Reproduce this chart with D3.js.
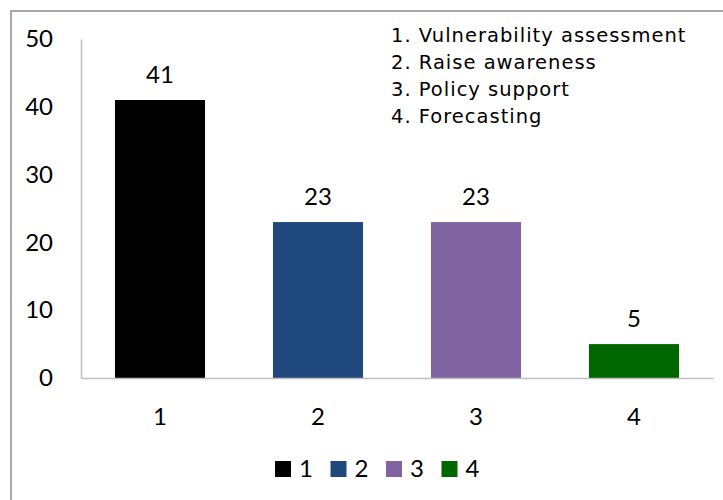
<!DOCTYPE html>
<html><head><meta charset="utf-8">
<script src="https://cdn.jsdelivr.net/npm/d3@7"></script>
<style>body{margin:0;background:#fff;}svg{display:block;}</style>
</head><body>
<svg id="chart" width="723" height="500"></svg>
<script>
const categories = ["1", "2", "3", "4"];
const values = [41, 23, 23, 5];
const colors = ["#000000", "#1F497D", "#8064A2", "#006600"];
const yTicks = [0, 10, 20, 30, 40, 50];
const notes = ["1. Vulnerability assessment", "2. Raise awareness", "3. Policy support", "4. Forecasting"];

const svg = d3.select("#chart");
const numFont = "Lato, 'Open Sans', sans-serif";
const txtFont = "'DejaVu Sans', Verdana, sans-serif";

// outer frame
svg.append("rect").attr("x", 11).attr("y", 11).attr("width", 730).attr("height", 500)
  .attr("fill", "none").attr("stroke", "#8c8c8c").attr("stroke-width", 1.5);

const pLeft = 81, pRight = 713, pTop = 39, pBottom = 378;
const x = d3.scaleBand().domain(categories).range([pLeft, pRight]).paddingInner(0.43).paddingOuter(0.215);
const y = d3.scaleLinear().domain([0, 50]).range([pBottom, pTop]);

// y axis
const yAxis = svg.append("g").attr("transform", `translate(${pLeft},0)`)
  .call(d3.axisLeft(y).tickValues(yTicks).tickSize(0).tickPadding(28));
yAxis.select(".domain").attr("stroke", "#bfbfbf").attr("stroke-width", 1.5);
yAxis.selectAll("text").attr("font-family", numFont).attr("font-size", 24).attr("fill", "#000");

// bars
svg.selectAll("rect.bar").data(values).join("rect").attr("class", "bar")
  .attr("x", (d, i) => x(categories[i])).attr("width", x.bandwidth())
  .attr("y", d => y(d)).attr("height", d => y(0) - y(d))
  .attr("fill", (d, i) => colors[i]);

// x axis
const xAxis = svg.append("g").attr("transform", `translate(0,${pBottom})`)
  .call(d3.axisBottom(x).tickSize(0).tickPadding(30));
xAxis.select(".domain").attr("stroke", "#bfbfbf").attr("stroke-width", 1.5);
xAxis.selectAll("text").attr("font-family", numFont).attr("font-size", 24).attr("fill", "#000");

// value labels
svg.selectAll("text.val").data(values).join("text").attr("class", "val")
  .attr("x", (d, i) => x(categories[i]) + x.bandwidth() / 2)
  .attr("y", d => y(d) - 17)
  .attr("text-anchor", "middle").attr("font-family", numFont).attr("font-size", 24)
  .text(d => d);

// notes
svg.selectAll("text.note").data(notes).join("text").attr("class", "note")
  .attr("x", 391).attr("y", (d, i) => 42 + i * 27)
  .attr("font-family", txtFont).attr("font-size", 19.5).attr("letter-spacing", 1.0).attr("fill", "#000")
  .text(d => d);

// legend
const lg = svg.selectAll("g.lg").data(categories).join("g").attr("class", "lg")
  .attr("transform", (d, i) => `translate(${275 + i * 55.5},0)`);
lg.append("rect").attr("x", 0).attr("y", 461).attr("width", 16).attr("height", 16)
  .attr("fill", (d, i) => colors[i]);
lg.append("text").attr("x", 24).attr("y", 477).attr("font-family", numFont).attr("font-size", 24)
  .text(d => d);
</script>
</body></html>
